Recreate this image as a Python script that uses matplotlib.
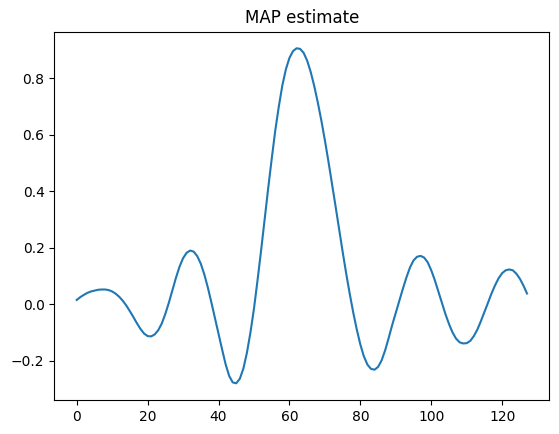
import numpy as np
import matplotlib
matplotlib.use("Agg")
import matplotlib.pyplot as plt

# MAP estimate values (index 0..127)
estimate = [
    0.015, 0.025, 0.033, 0.040, 0.045, 0.048, 0.051, 0.052, 0.052, 0.050,
    0.045, 0.037, 0.026, 0.012, -0.005, -0.025, -0.046, -0.068, -0.088, -0.104,
    -0.113, -0.114, -0.107, -0.092, -0.068, -0.034, 0.006, 0.050, 0.094, 0.133,
    0.163, 0.182, 0.190, 0.186, 0.170, 0.143, 0.105, 0.058, 0.005, -0.050,
    -0.105, -0.160, -0.213, -0.254, -0.277, -0.280, -0.264, -0.228, -0.172, -0.100,
    -0.015, 0.085, 0.190, 0.300, 0.410, 0.515, 0.615, 0.700, 0.775, 0.832,
    0.872, 0.896, 0.906, 0.904, 0.890, 0.862, 0.822, 0.772, 0.714, 0.650,
    0.580, 0.505, 0.427, 0.347, 0.266, 0.186, 0.109, 0.037, -0.030, -0.090,
    -0.143, -0.185, -0.214, -0.229, -0.232, -0.222, -0.199, -0.163, -0.119, -0.073,
    -0.030, 0.012, 0.055, 0.095, 0.130, 0.155, 0.168, 0.171, 0.165, 0.148,
    0.120, 0.085, 0.045, 0.005, -0.035, -0.070, -0.100, -0.122, -0.135, -0.139,
    -0.138, -0.130, -0.113, -0.090, -0.060, -0.028, 0.005, 0.038, 0.067, 0.092,
    0.110, 0.120, 0.123, 0.120, 0.108, 0.090, 0.066, 0.038,
]
idx = np.arange(len(estimate))

fig = plt.figure(figsize=(5.59, 4.34), dpi=100)
ax = fig.add_axes([0.097, 0.0783, 0.886, 0.849])
ax.plot(idx, estimate, color="C0", lw=1.5)
ax.set_title("MAP estimate")

fig.savefig("out.png", dpi=100)
